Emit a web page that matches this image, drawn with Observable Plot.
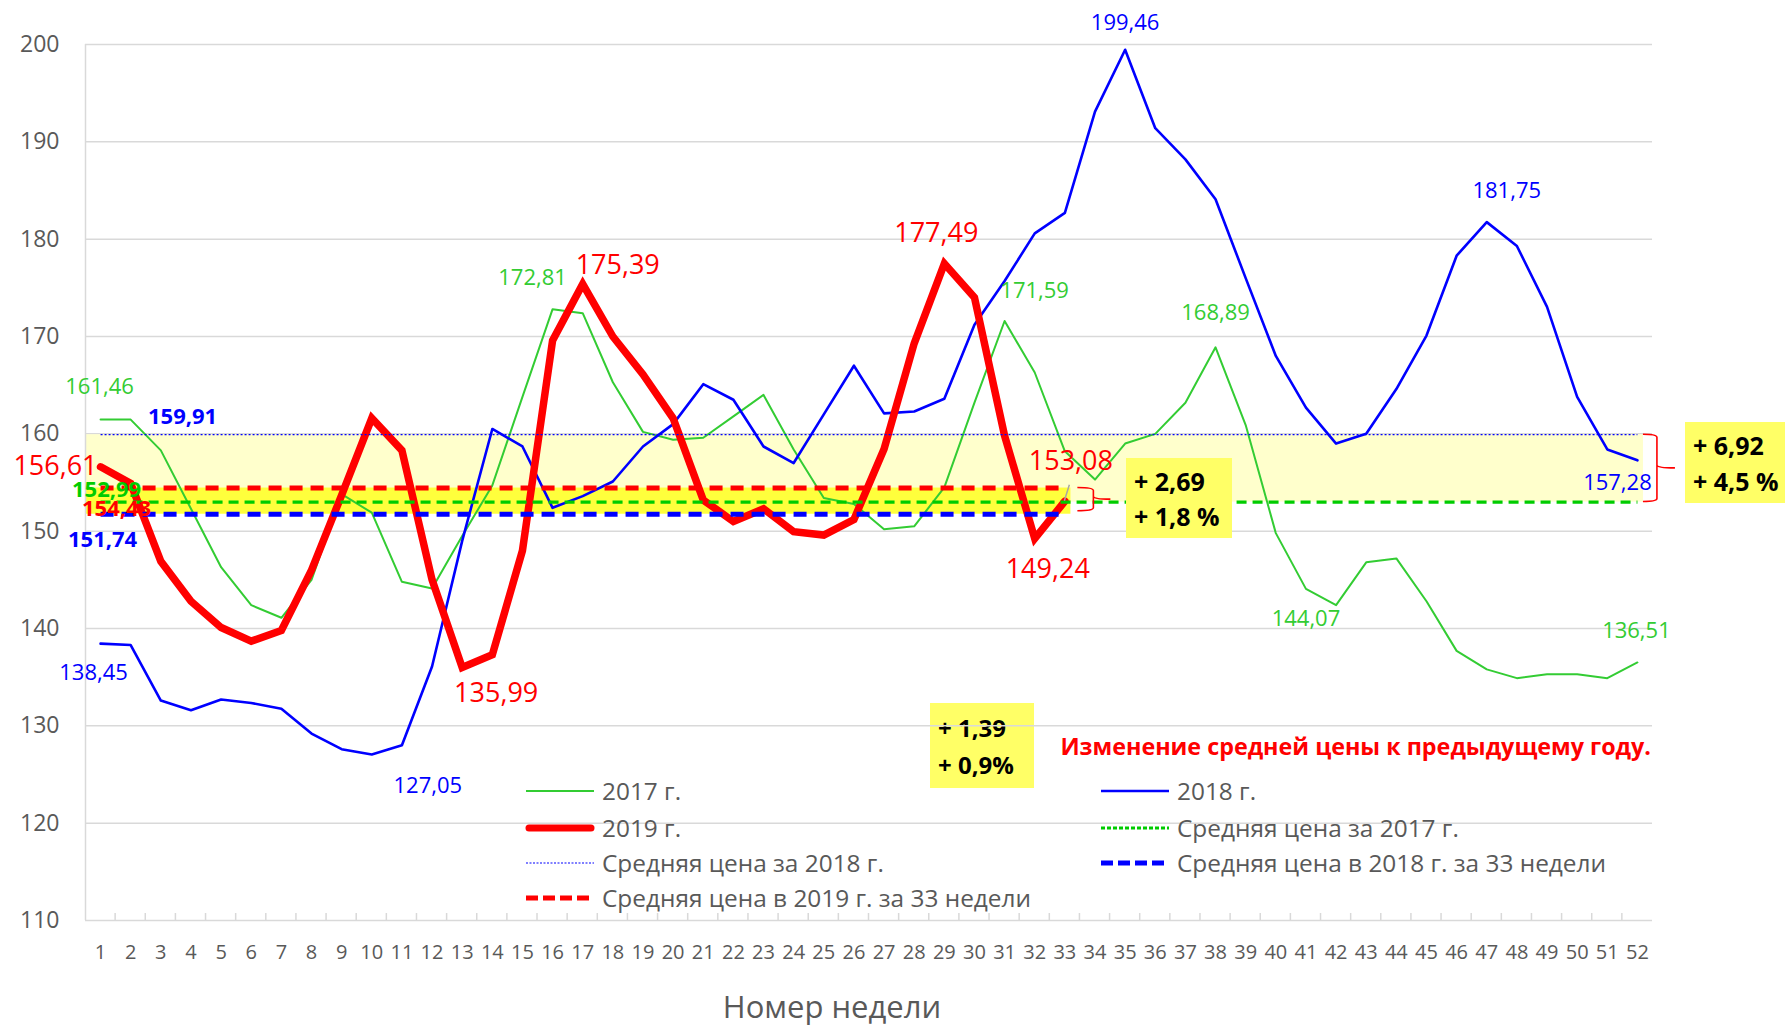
<!DOCTYPE html>
<html><head><meta charset="utf-8">
<script src="https://cdn.jsdelivr.net/npm/d3@7"></script>
<script src="https://cdn.jsdelivr.net/npm/@observablehq/plot@0.6"></script>
<style>
html,body{margin:0;padding:0;background:#fff;}
#chart svg{display:block;}
</style></head>
<body><div id="chart"></div>
<script>
// ---------------- DATA ----------------
const weeks = d3.range(1, 53);
const yTicks = [110, 120, 130, 140, 150, 160, 170, 180, 190, 200];

const price2017 = [161.46, 161.46, 158.3, 152.3, 146.3, 142.4, 141.1, 145.0, 153.8, 151.9,
  144.8, 144.1, 149.5, 154.7, 163.8, 172.81, 172.4, 165.3, 160.2, 159.4,
  159.6, 161.8, 164.0, 158.4, 153.4, 152.8, 150.2, 150.5, 154.5, 163.2,
  171.59, 166.3, 158.2, 155.3, 159.0, 160.0, 163.2, 168.89, 160.9, 149.8,
  144.07, 142.4, 146.8, 147.2, 142.8, 137.7, 135.8, 134.9, 135.3, 135.3,
  134.9, 136.51];
const price2018 = [138.45, 138.3, 132.6, 131.6, 132.7, 132.35, 131.75, 129.2, 127.6, 127.05,
  128.0, 136.1, 149.0, 160.5, 158.7, 152.4, 153.6, 155.1, 158.7, 161.0,
  165.1, 163.5, 158.7, 157.0, 162.0, 167.0, 162.1, 162.3, 163.6, 171.2,
  175.7, 180.6, 182.7, 193.1, 199.46, 191.4, 188.2, 184.1, 176.0, 168.0,
  162.7, 159.0, 160.0, 164.6, 170.1, 178.3, 181.75, 179.3, 173.05, 163.8,
  158.4, 157.28];
const price2019 = [156.61, 154.9, 146.9, 142.8, 140.1, 138.7, 139.8, 146.0, 153.7, 161.6,
  158.3, 145.0, 135.99, 137.3, 148.0, 169.6, 175.39, 170.0, 166.1, 161.6,
  153.2, 151.0, 152.3, 149.95, 149.6, 151.2, 158.45, 169.3, 177.49, 174.0,
  159.8, 149.24, 153.08];

const avg2017 = 152.99;      // Средняя цена за 2017 г.
const avg2018 = 159.91;      // Средняя цена за 2018 г.
const avg2018w33 = 151.74;   // Средняя цена в 2018 г. за 33 недели
const avg2019w33 = 154.43;   // Средняя цена в 2019 г. за 33 недели
const weeksCompared = 33;

const labelWeeks2017 = [1, 16, 31, 38, 41, 52];
const labelWeeks2018 = [1, 10, 35, 47, 52];
const labelWeeks2019 = [1, 13, 17, 29, 32, 33];

const diffTexts = [["+ 2,69", "+ 1,8 %"], ["+ 6,92", "+ 4,5 %"], ["+ 1,39", "+ 0,9%"]];
const legendLabels = ["2017 г.", "2018 г.", "2019 г.", "Средняя цена за 2017 г.",
  "Средняя цена за 2018 г.", "Средняя цена в 2018 г. за 33 недели", "Средняя цена в 2019 г. за 33 недели"];
const noteText = "Изменение средней цены к предыдущему году.";
const xTitle = "Номер недели";

// ---------------- STYLE ----------------
const FONT = "'Open Sans', 'Noto Sans', 'DejaVu Sans', sans-serif";
const C17 = "#33cc33", C18 = "#0000ff", C19 = "#ff0000", CAVG17 = "#00cc00";
const GRID = "#d9d9d9", TXT = "#595959";
const fmt = v => v.toFixed(2).replace(".", ",");

const s17 = weeks.map((w, i) => ({week: w, value: price2017[i]}));
const s18 = weeks.map((w, i) => ({week: w, value: price2018[i]}));
const s19 = price2019.map((v, i) => ({week: i + 1, value: v}));
const fullWeeks = weeks;
const partWeeks = d3.range(1, weeksCompared + 1);

// label offsets (layout only)
const off17 = {1: [-1, -33], 16: [-20, -31], 31: [30, -30], 38: [0, -34], 41: [0, 30], 52: [-1, -32]};
const off18 = {1: [-7, 29], 10: [56, 31], 35: [0, -27], 47: [20, -31], 52: [-20, 23]};
const off19 = {1: [-3, 0], 13: [34, 26], 17: [35, -19], 29: [-8, -30], 32: [13, 31], 33: [6, -40]};

function pointLabels(series, wks, offs, color, size, extra = {}) {
  return wks.map(w => {
    const d = series[w - 1];
    return Plot.text([d], {x: "week", y: "value", text: d => fmt(d.value), fill: color,
      fontSize: size, dx: offs[w][0], dy: offs[w][1], ...extra});
  });
}

const avgLabels = [
  {v: avg2018, color: C18, dx: 82, dy: -18},
  {v: avg2017, color: CAVG17, dx: 6, dy: -12},
  {v: avg2019w33, color: C19, dx: 16, dy: 21},
  {v: avg2018w33, color: C18, dx: 2, dy: 26}
];

const chart = Plot.plot({
  width: 1785,
  height: 1027,
  marginLeft: 85,
  marginRight: 133,
  marginTop: 44,
  marginBottom: 107,
  style: {fontFamily: FONT, background: "#fff", overflow: "visible"},
  x: {domain: [0.5, 52.5], label: null},
  y: {domain: [110, 200], label: null},
  marks: [
    Plot.gridY(yTicks.filter(t => t > 110), {stroke: GRID, strokeOpacity: 1, strokeWidth: 1.5}),
    // shaded bands
    Plot.rect([0], {x1: 0.5, x2: 52.2, y1: avg2017, y2: avg2018, fill: "#ffffcc"}),
    Plot.rect([0], {x1: 0.5, x2: 33.2, y1: avg2018w33, y2: avg2019w33, fill: "#ffff3c"}),
    // axis lines
    Plot.ruleX([0.5], {y1: 110, y2: 200, stroke: GRID, strokeWidth: 1.5}),
    Plot.ruleY([110], {stroke: GRID, strokeWidth: 1.5}),
    Plot.axisY(yTicks, {tickSize: 0, tickPadding: 26, fontSize: 23, fill: TXT, label: null}),
    Plot.axisX(weeks, {tickSize: 0, tickPadding: 24, fontSize: 20, fill: TXT, label: null}),
    // series
    Plot.line(s17, {x: "week", y: "value", stroke: C17, strokeWidth: 2}),
    Plot.line(s18, {x: "week", y: "value", stroke: C18, strokeWidth: 2.6}),
    Plot.line(s19, {x: "week", y: "value", stroke: C19, strokeWidth: 7.5, strokeLinejoin: "miter", strokeMiterlimit: 3}),
    // averages
    Plot.line(fullWeeks, {x: d => d, y: () => avg2018, stroke: C18, strokeWidth: 1.2, strokeDasharray: "2,2", strokeLinecap: "butt"}),
    Plot.line(fullWeeks, {x: d => d, y: () => avg2017, stroke: CAVG17, strokeWidth: 3.2, strokeDasharray: "10,6", strokeLinecap: "butt"}),
    Plot.line(partWeeks, {x: d => d, y: () => avg2018w33, stroke: C18, strokeWidth: 5, strokeDasharray: "13,8", strokeLinecap: "butt"}),
    Plot.line(partWeeks, {x: d => d, y: () => avg2019w33, stroke: C19, strokeWidth: 5, strokeDasharray: "13,8", strokeLinecap: "butt"}),
    // point labels
    ...pointLabels(s17, labelWeeks2017, off17, C17, 22),
    ...pointLabels(s18, labelWeeks2018, off18, C18, 22),
    ...pointLabels(s19, labelWeeks2019, off19, C19, 27, {}),
    ...avgLabels.map(a => Plot.text([a.v], {x: () => 1, y: d => d, text: d => fmt(d), fill: a.color,
      fontSize: 22, fontWeight: "bold", dx: a.dx, dy: a.dy})),
    // x title
    Plot.text([xTitle], {frameAnchor: "bottom", dx: -37, dy: 97, fontSize: 31, fill: TXT})
  ]
});

document.getElementById("chart").appendChild(chart);

// -------- decorations (annotation boxes, brackets, legend) --------
const svg = d3.select(chart);
const X = chart.scale("x").apply, Y = chart.scale("y").apply;

// first 2019 label should be right-aligned
svg.selectAll("text").filter(function () { return this.textContent === fmt(price2019[0]); })
  .attr("text-anchor", "end");

// category boundary tick marks on the x axis
svg.append("g").selectAll("line").data(d3.range(1.5, 52, 1)).join("line")
  .attr("x1", d => X(d)).attr("x2", d => X(d)).attr("y1", Y(110)).attr("y2", Y(110) - 7)
  .attr("stroke", GRID).attr("stroke-width", 1.5);

// box C sits under the grid
const boxes = [
  {x: 1126, y: 458, w: 106, h: 80, t: diffTexts[0], fs: 25, under: false},
  {x: 1685, y: 422, w: 100, h: 81, t: diffTexts[1], fs: 25, under: false},
  {x: 930, y: 703, w: 104, h: 85, t: diffTexts[2], fs: 24, under: true}
];
boxes.forEach(b => {
  const g = b.under ? svg.insert("g", "g") : svg.append("g");
  g.attr("text-anchor", "start");
  g.append("rect").attr("x", b.x).attr("y", b.y).attr("width", b.w).attr("height", b.h).attr("fill", "#ffff66");
  b.t.forEach((t, i) => {
    g.append("text").attr("x", b.x + 8).attr("y", b.y + b.h * (i === 0 ? 0.3 : 0.74))
      .attr("dy", "0.35em").attr("font-size", b.fs).attr("font-weight", "bold").attr("fill", "#000")
      .attr("text-anchor", "start").attr("font-family", FONT).text(t);
  });
});

// brackets
function bracket(x0, x1, x2, yTop, yBot) {
  const ym = (yTop + yBot) / 2, r = 3;
  svg.append("path").attr("fill", "none").attr("stroke", C19).attr("stroke-width", 1.6)
    .attr("d", `M${x0},${yTop} Q${x1},${yTop} ${x1},${yTop + r} L${x1},${ym - r} Q${x1},${ym} ${x2},${ym} ` +
      `M${x1},${ym - r} Q${x1},${ym} ${x1},${ym + r} L${x1},${yBot - r} Q${x1},${yBot} ${x0},${yBot}`);
}
bracket(X(33) + 13, X(33) + 29, X(33) + 46, Y(avg2019w33), Y(avg2018w33) - 3);
bracket(X(52) + 6, X(52) + 20, X(52) + 38, Y(avg2018), Y(avg2017));
// leader for 153,08
svg.append("line").attr("x1", X(33)).attr("y1", Y(price2019[32])).attr("x2", X(33) + 5).attr("y2", Y(price2019[32]) - 16)
  .attr("stroke", "#a6a6a6").attr("stroke-width", 1.5);

// note
svg.append("text").attr("x", 1651).attr("y", 747).attr("dy", "0.35em").attr("text-anchor", "end")
  .attr("font-size", 23.3).attr("font-weight", "bold").attr("fill", C19).attr("font-family", FONT).text(noteText);

// legend
const legendItems = [
  {label: legendLabels[0], col: 0, row: 0, stroke: C17, w: 2, dash: null},
  {label: legendLabels[1], col: 1, row: 0, stroke: C18, w: 2.6, dash: null},
  {label: legendLabels[2], col: 0, row: 1, stroke: C19, w: 7, dash: null, cap: "round"},
  {label: legendLabels[3], col: 1, row: 1, stroke: CAVG17, w: 3, dash: "4,2"},
  {label: legendLabels[4], col: 0, row: 2, stroke: C18, w: 1.2, dash: "2,1.5"},
  {label: legendLabels[5], col: 1, row: 2, stroke: C18, w: 5, dash: "12,5"},
  {label: legendLabels[6], col: 0, row: 3, stroke: C19, w: 5, dash: "12,5"}
];
const colX = [526, 1101], rowY = [791, 828, 863, 898];
const lg = svg.append("g").attr("font-family", FONT).attr("text-anchor", "start");
legendItems.forEach(it => {
  const x = colX[it.col], y = rowY[it.row];
  lg.append("line").attr("x1", x + (it.cap ? 3 : 0)).attr("x2", x + 68 - (it.cap ? 3 : 0)).attr("y1", y).attr("y2", y)
    .attr("stroke", it.stroke).attr("stroke-width", it.w)
    .attr("stroke-dasharray", it.dash).attr("stroke-linecap", it.cap || "butt");
  lg.append("text").attr("x", x + 76).attr("y", y).attr("dy", "0.35em").attr("font-size", 24.4)
    .attr("text-anchor", "start").attr("fill", TXT).text(it.label);
});
</script>
</body></html>
